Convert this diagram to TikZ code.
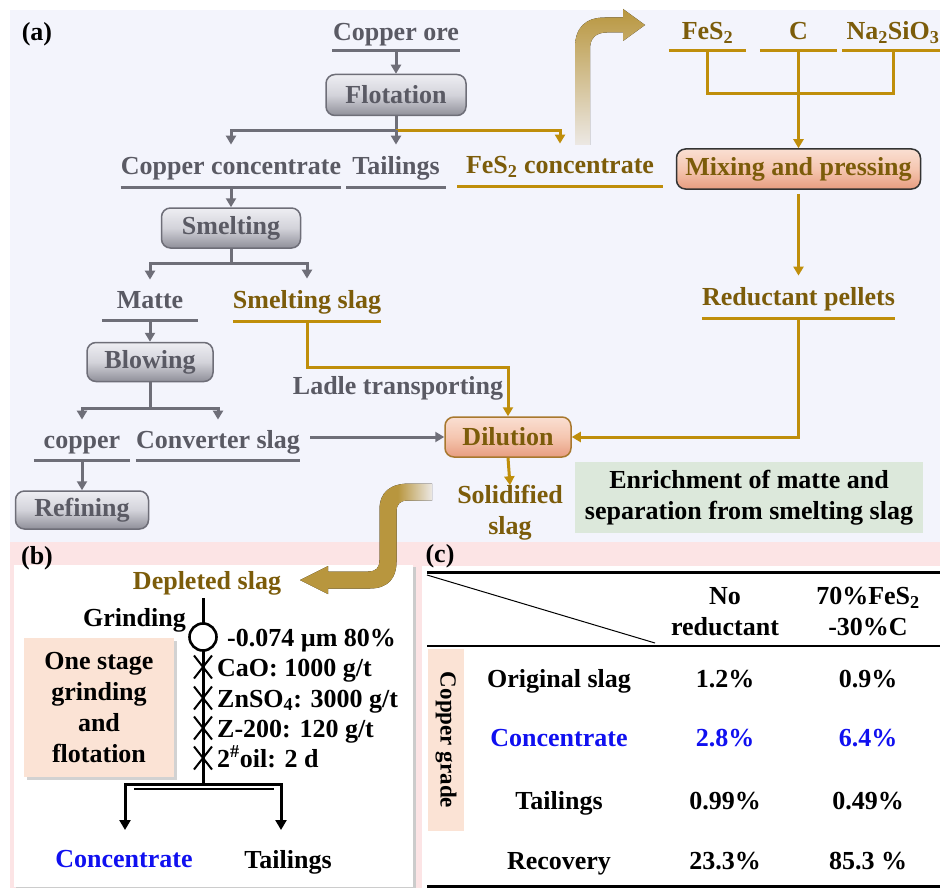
\documentclass[tikz,border=0pt]{standalone}
\usepackage{fontspec}
\setmainfont{Liberation Serif}
\usetikzlibrary{arrows.meta,shapes.misc}
\definecolor{bgA}{HTML}{F3F4FC}
\definecolor{bgP}{HTML}{FCE4E5}
\definecolor{gtext}{HTML}{5A5A64}
\definecolor{gline}{HTML}{6E6E78}
\definecolor{otext}{HTML}{7C5C0A}
\definecolor{oline}{HTML}{BF8E0B}
\definecolor{salm}{HTML}{FBE3D5}
\definecolor{grn}{HTML}{DCE8DB}
\definecolor{blu}{HTML}{1010F0}
\definecolor{arrG}{HTML}{B8963E}
\definecolor{arrP}{HTML}{ECE8E4}
\definecolor{gbt}{HTML}{EEEEF3}
\definecolor{gbm}{HTML}{D3D3DA}
\definecolor{gbb}{HTML}{8F8F99}
\definecolor{sbt}{HTML}{FADFD2}
\definecolor{sbm}{HTML}{F5C6B0}
\definecolor{sbb}{HTML}{E79D80}
\definecolor{dilb}{HTML}{A8782E}
\pgfdeclarehorizontalshading{sfade}{100bp}{color(0bp)=(arrG); color(25bp)=(arrG); color(62bp)=(arrG); color(75bp)=(arrP); color(100bp)=(arrP)}
\begin{document}
\begin{tikzpicture}[x=1pt,y=-1pt,
  every node/.style={font=\fontsize{26}{31}\selectfont\bfseries},
  tx/.style={inner sep=0pt, text height=21pt, text depth=3pt, align=center},
  mtx/.style={inner sep=0pt, align=center},
  gtx/.style={tx, text=gtext},
  otx/.style={tx, text=otext},
  gln/.style={draw=gline, line width=3pt},
  oln/.style={draw=oline, line width=3pt},
  gul/.style={gtx, anchor=south, append after command={(\tikzlastnode.south west) edge[gln] (\tikzlastnode.south east)}},
  oul/.style={otx, anchor=south, append after command={(\tikzlastnode.south west) edge[oln] (\tikzlastnode.south east)}},
  garr/.style={gln, -{Triangle[width=10pt,length=9pt]}},
  oarr/.style={oln, -{Triangle[width=10pt,length=9pt]}},
  gbox/.style={draw=gline, line width=1.5pt, rounded corners=9pt, top color=gbt, bottom color=gbb, middle color=gbm, text=gtext, inner sep=0pt},
  sbox/.style={line width=1.5pt, rounded corners=9pt, top color=sbt, bottom color=sbb, middle color=sbm, text=otext, inner sep=0pt},
  xmark/.style={cross out, draw, line width=2pt, minimum width=16pt, minimum height=21pt, inner sep=0pt},
  blk/.style={draw=black, line width=3pt}
]
\useasboundingbox (0,0) rectangle (940,888);
\fill[white] (0,0) rectangle (940,888);
% ---------- panel (a) ----------
\fill[bgA] (10,10) rectangle (940,542);
\node[tx] (la) at (37,32) {(a)};

\node[gul, minimum width=127pt, minimum height=38pt] (ore) at (396,51) {Copper ore};
\node[gbox, minimum width=140pt, minimum height=41pt] (flot) at (396,95) {Flotation};
\node[gul, minimum width=211pt, minimum height=42pt] (cc) at (231,187) {Copper concentrate};
\node[gul, minimum width=99pt, minimum height=42pt] (tail) at (396,187) {Tailings};
\node[oul, minimum width=205pt, minimum height=42pt] (fes2c) at (560,186) {FeS\textsubscript{2} concentrate};
\node[gbox, minimum width=139pt, minimum height=40pt] (smelt) at (231,228) {Smelting};
\node[gul, minimum width=96pt, minimum height=40pt] (matte) at (150,320) {Matte};
\node[oul, minimum width=148pt, minimum height=42pt] (sslag) at (307,321) {Smelting slag};
\node[gbox, minimum width=126pt, minimum height=39pt] (blow) at (150,362) {Blowing};
\node[gul, minimum width=96pt, minimum height=40pt] (copper) at (82,460) {copper};
\node[gul, minimum width=164pt, minimum height=40pt] (cslag) at (218,460) {Converter slag};
\node[gbox, minimum width=133pt, minimum height=38pt] (refin) at (82,510) {Refining};
\node[gtx] (ladle) at (398,385) {Ladle transporting};
\node[sbox, draw=dilb, minimum width=126pt, minimum height=40pt] (dil) at (508,437) {Dilution};
\node[mtx, text=otext] (solid) at (510,513) {Solidified\\slag};
\node[fill=grn, minimum width=348pt, minimum height=71pt, align=center, inner sep=0pt] (enr) at (749,497.5) {Enrichment of matte and\\separation from smelting slag};

\node[oul, minimum width=77pt, minimum height=40pt] (fes2) at (707.5,51) {FeS\textsubscript{2}};
\node[oul, minimum width=77pt, minimum height=40pt] (carb) at (798.5,51) {C};
\node[oul, minimum width=101pt, minimum height=40pt] (nasio) at (893,51) {Na\textsubscript{2}SiO\textsubscript{3}};
\node[sbox, draw=black!80, minimum width=244pt, minimum height=40pt] (mix) at (798.5,169) {Mixing and pressing};
\node[oul, minimum width=182pt, minimum height=42pt] (redp) at (798.5,318) {Reductant pellets};

% connectors (a)
\draw[garr] (ore.south) -- (flot.north);
\draw[gln] (flot.south) -- ++(0,14) coordinate (fj);
\draw[oarr] (fj) -| (fes2c.north);
\draw[garr] (fj) -| (cc.north);
\draw[garr] (fj) -- (tail.north);
\draw[garr] (cc.south) -- (smelt.north);
\draw[gln] (smelt.south) -- ++(0,15) coordinate (sj);
\draw[garr] (sj) -| (matte.north);
\draw[garr] (sj) -| (sslag.north);
\draw[garr] (matte.south) -- (blow.north);
\draw[gln] (blow.south) -- ++(0,26) coordinate (bj);
\draw[garr] (bj) -| (copper.north);
\draw[garr] (bj) -| (cslag.north);
\draw[garr] (copper.south) -- (refin.north);
\coordinate (cse) at ([xshift=10pt]cslag.east);
\draw[garr] (cse |- dil.west) -- (dil.west);
\draw[oarr] (sslag.south) -- ++(0,46) -| (dil.north);
\draw[oln] (fes2.south) -- ++(0,43) -| (nasio.south);
\draw[oarr] (carb.south) -- (mix.north);
\draw[oarr] ([yshift=-4pt]mix.south) -- (redp.north);
\draw[oarr] (redp.south) |- (dil.east);
\draw[oarr] (dil.south) -- (solid.north);

% big curved arrow (top)
\fill[top color=arrG, bottom color=arrP] (575,145) -- (575,47.5) .. controls (575,28) and (585,17.5) .. (605,17.5) -- (623,17.5) -- (623,9) -- (645,25) -- (623,41) -- (623,32.5) -- (607,32.5) .. controls (596,32.5) and (590,38) .. (590,49) -- (590,145) -- cycle;

% ---------- panels (b),(c) background ----------
\fill[bgP] (10,542) rectangle (940,888);
\fill[gray!40] (16,567) rectangle (416,888);
\fill[white] (14,565) rectangle (413,887);
\fill[white] (422,566) rectangle (940,888);
\node[tx] (lb) at (37,555) {(b)};
\node[tx] (lc) at (440,553) {(c)};

% S arrow
\fill[shading=sfade] (432,483.5) -- (410,483.5) .. controls (390,483.5) and (379.5,492) .. (379.5,510) -- (379.5,560) .. controls (379.5,568) and (376,571.5) .. (368,571.5) -- (328,571.5) -- (328,566) -- (300,580) -- (328,594) -- (328,588.5) -- (370,588.5) .. controls (388,588.5) and (396.5,578) .. (396.5,562) -- (396.5,512) .. controls (396.5,504) and (400,500.5) .. (408,500.5) -- (432,500.5) -- cycle;

% ---------- panel (b) ----------
\node[otx] (depl) at (207,580) {Depleted slag};
\coordinate (dtop) at (203,598);
\coordinate (jb) at (203,784);
\draw[blk] (dtop) -- (203,625) (203,650) -- (jb);
\node[circle, draw, line width=2.6pt, fill=white, minimum size=27pt, inner sep=0pt] (grc) at (203,637) {};
\node[tx, anchor=east] (grd) at (186,617) {Grinding};
\node[tx, anchor=west] (sz) at (227,637) {-0.074 µm 80\%};
\node[xmark] (x1) at (203,667) {};
\node[xmark] (x2) at (203,698) {};
\node[xmark] (x3) at (203,728) {};
\node[xmark] (x4) at (203,758) {};
\node[tx, anchor=west] (r1) at (217,667) {CaO: 1000 g/t};
\node[tx, anchor=west] (r2) at (217,698) {ZnSO\textsubscript{4}: 3000 g/t};
\node[tx, anchor=west] (r3) at (217,728) {Z-200: 120 g/t};
\node[tx, anchor=west] (r4) at (217,758) {2\textsuperscript{\#}oil: 2 d};
\coordinate (ca) at (125,830);
\coordinate (ta) at (281,830);
\draw[blk, {Triangle[width=11pt,length=10pt]}-{Triangle[width=11pt,length=10pt]}] (ca) -- (ca |- jb) -- (ta |- jb) -- (ta);
\draw[line width=2pt] (134,789) -- (274,789);
\node[tx, text=blu] (conc) at (124,858) {Concentrate};
\node[tx] (tail2) at (288,859) {Tailings};
\fill[gray!35] (27,641) rectangle (177,780);
\node[fill=salm, minimum width=150pt, minimum height=139pt, align=center, inner sep=0pt] (osg) at (99,707.5) {One stage\\grinding\\and\\flotation};

% ---------- panel (c) ----------
\draw[line width=3pt] (427,572) -- (940,572);
\draw[line width=1pt] (427,575) -- (655,643);
\draw[line width=2pt] (427,646) -- (940,646);
\draw[line width=3pt] (427,886) -- (940,886);
\node[fill=salm, rotate=-90, minimum width=182pt, minimum height=36pt, inner sep=0pt, font=\fontsize{23}{26}\selectfont\bfseries] (cg) at (446,740) {Copper grade};
\node[mtx] (h1) at (725,612) {No\\reductant};
\node[mtx] (h2) at (868,612) {70\%FeS\textsubscript{2}\\-30\%C};
\node[tx] (c11) at (559,678) {Original slag};
\node[tx] (c12) at (725,678) {1.2\%};
\node[tx] (c13) at (868,678) {0.9\%};
\node[tx, text=blu] (c21) at (559,737) {Concentrate};
\node[tx, text=blu] (c22) at (725,737) {2.8\%};
\node[tx, text=blu] (c23) at (868,737) {6.4\%};
\node[tx] (c31) at (559,800) {Tailings};
\node[tx] (c32) at (725,800) {0.99\%};
\node[tx] (c33) at (868,800) {0.49\%};
\node[tx] (c41) at (559,860) {Recovery};
\node[tx] (c42) at (725,860) {23.3\%};
\node[tx] (c43) at (868,860) {85.3 \%};
\end{tikzpicture}
\end{document}
